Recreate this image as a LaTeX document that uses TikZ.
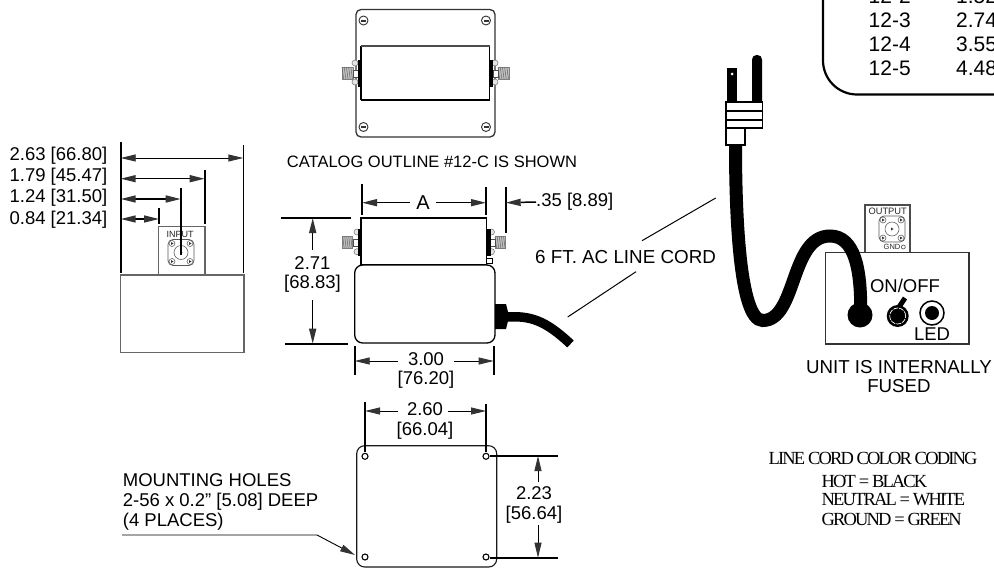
\documentclass[tikz,border=0pt]{standalone}
\usepackage{fontspec}
\setmainfont{Liberation Sans}
\newfontfamily\codingfont[LetterSpace=-10]{Liberation Serif}
\usetikzlibrary{arrows.meta, calc, positioning}

\tikzset{
  dimtip/.style={-{Triangle[length=15pt,width=7pt,color=black!80]}},
  dimboth/.style={{Triangle[length=15pt,width=7pt,color=black!80]}-{Triangle[length=15pt,width=7pt,color=black!80]}},
  extline/.style={line width=1.9pt},
  dimlabel/.style={font=\fontsize{18.5}{20}\selectfont, inner sep=0pt, align=center},
  tablelabel/.style={font=\fontsize{21}{24}\selectfont, inner sep=0pt, anchor=base west},
  partline/.style={line width=1.3pt, draw=black!80},
  tinylabel/.style={inner sep=0pt, text=black!85},
  flange/.style={draw=black!65, line width=0.8pt, fill=white, rounded corners=5pt},
  threaded/.style={draw=black!50, line width=0.6pt, fill=black!25},
  codinglabel/.style={font=\codingfont\fontsize{18.5}{20}\selectfont, inner sep=0pt, anchor=west},
}

% small connector face: flange, bore and four screws
\newcommand{\sqconn}[2]{
  \draw[flange] (#1-13,#2-13) rectangle (#1+13,#2+13);
  \draw[draw=black!60, line width=0.6pt] (#1,#2) circle (7pt);
  \fill[black!80] (#1-1,#2-1.5) -- (#1+1.5,#2) -- (#1-1,#2+1.5) -- cycle;
  \foreach \dx/\dy in {-9/-9, 9/-9, -9/9, 9/9} {
    \draw[draw=black!60, fill=white, line width=0.6pt] (#1+\dx,#2+\dy) circle (3pt);
    \fill[black!80] (#1+\dx-1,#2+\dy-1.5) -- (#1+\dx+1.5,#2+\dy) -- (#1+\dx-1,#2+\dy+1.5) -- cycle;
  }
}
% threaded stud between x positions, on centre height
\newcommand{\stud}[3]{
  \draw[threaded] (#1,#3-6) rectangle (#2,#3+6);
  \foreach \sx in {0,0.2,...,0.9} {
    \draw[black!60, line width=0.5pt] ($(#1,#3-6)!\sx!(#2,#3-6)$) -- ($(#1,#3+6)!\sx+0.15!(#2,#3+6)$);
  }
}

\begin{document}
\begin{tikzpicture}[x=1pt, y=-1pt]
\useasboundingbox (0,0) rectangle (994,568);
\clip (0,0) rectangle (994,568);
\fill[white] (0,0) rectangle (994,568);

% Catalog table
\draw[line width=2.2pt, rounded corners=34pt] (823,-60) -- (823,94.5) -- (1060,94.5);
\foreach \rowy/\rowa/\rowb in {3.3/12-2/1.52, 27/12-3/2.74, 51/12-4/3.55, 75/12-5/4.48} {
  \node[tablelabel] (row\rowa) at (868.5,\rowy) {\rowa};
  \node[tablelabel] (val\rowa) at (956,\rowy) {\rowb};
}

% Top view
\draw[partline, rounded corners=5pt] (356,9.5) rectangle (495,137);
\draw[line width=1.1pt] (361,100) -- (361,45.7) (489.5,45.7) -- (489.5,100) -- (361,100);
\draw[line width=1.6pt, black!70] (361,45.7) -- (489.5,45.7);
\foreach \sx/\sy in {363.5/20.5, 486/20.5, 363.5/127, 486/127} {
  \draw[line width=0.9pt, black!80] (\sx,\sy) circle (4.5pt);
  \fill[black!80] (\sx-2.5,\sy-0.8) rectangle (\sx+2.5,\sy+1.2);
}
\stud{342}{353}{73}
\stud{498}{509}{73}
\draw[black!70, fill=white] (353,70) rectangle (358,77);
\draw[black!70, fill=white] (493,70) rectangle (498,77);
\foreach \nx in {355,495} {
  \draw[black!50, fill=black!10, line width=0.6pt] (\nx,63) circle (3pt);
  \draw[black!50, fill=black!10, line width=0.6pt] (\nx,82) circle (3pt);
}
\fill[black] (358,60) rectangle (361,87);
\fill[black] (489.5,60) rectangle (493,87);
\node[dimlabel, font=\fontsize{16.5}{18}\selectfont] (catalog) at (432,162) {CATALOG OUTLINE \#12-C IS SHOWN};

% Side view with input connector
\draw[partline, black!60] (120.7,275) rectangle (244,352.7);
\draw[partline, black!60] (158.7,275) |- (205,226.7) -- (205,275);
\node[tinylabel, font=\fontsize{9}{10}\selectfont] (input) at (180,234) {INPUT};
\sqconn{181}{252.5}
\draw[extline] (120.7,142) -- (120.7,273);
\draw[line width=1pt] (243.3,145) -- (243.3,273);
\draw[extline] (204.7,170) -- (204.7,224);
\draw[extline] (180.7,188) -- (180.7,255);
\draw[extline] (159,208) -- (159,224);
\draw[dimboth, line width=0.9pt] (120.7,158) -- (243.3,158);
\draw[dimboth, line width=1.5pt] (120.7,178.7) -- (204.7,178.7);
\draw[dimboth, line width=1.5pt] (120.7,199) -- (180.7,199);
\draw[dimboth, line width=1.5pt] (120.7,219) -- (159,219);
\node[dimlabel, anchor=east] (widtha) at (107.5,156) {2.63 [66.80]};
\node[dimlabel, anchor=east] (widthb) at (107.5,177) {1.79 [45.47]};
\node[dimlabel, anchor=east] (widthc) at (107.5,198) {1.24 [31.50]};
\node[dimlabel, anchor=east] (widthd) at (107.5,220) {0.84 [21.34]};

% Front view
\stud{342.7}{352.7}{242.5}
\stud{495}{505.7}{242.5}
\foreach \nx in {357,491.5} {
  \draw[black!50, fill=black!10, line width=0.6pt] (\nx,232) circle (3pt);
  \draw[black!50, fill=black!10, line width=0.6pt] (\nx,251.7) circle (3pt);
}
\draw[black!70, fill=white] (352.7,239) rectangle (358,246);
\draw[black!70, fill=white] (490,239) rectangle (495,246);
\fill[black] (358,229) rectangle (361,256);
\fill[black] (486.7,229) rectangle (491,256);
\draw[line width=0.8pt] (486.7,258) rectangle (492,263.5);
\draw[line width=1.3pt, fill=white] (361,218) rectangle (486.7,265);
\draw[line width=1.3pt, fill=white, rounded corners=8pt] (354.7,265) rectangle (495,343);
\fill[black] (495,304) -- (506,304) -- (508,312) -- (508,321) -- (506,329) -- (495,329) -- cycle;
\draw[line width=9.5pt] (506,317) .. controls (530,315.5) and (545,320) .. (570.5,344);
\draw[extline] (362,184) -- (362,215);
\draw[extline] (486,187) -- (486,215);
\draw[extline] (505.7,187) -- (505.7,233);
\node[dimlabel, font=\fontsize{20}{20}\selectfont] (dima) at (423,202.7) {A};
\draw[dimtip, line width=1.5pt] (dima.west) ++(-6,0) -- (362,202.7);
\draw[dimtip, line width=1.5pt] (dima.east) ++(6,0) -- (486,202.7);
\node[dimlabel, anchor=west] (stud) at (536,202) {.35 [8.89]};
\draw[dimtip, line width=1.5pt] (stud.west) -- (505.7,202.7);
\draw[extline] (281,218) -- (351,218);
\draw[extline] (285,343.7) -- (348,343.7);
\node[dimlabel] (high) at (312.5,274.5) {2.71\\[-1pt]{[68.83]}};
\draw[dimtip, line width=1.5pt] (312.7,250) -- (312.7,218);
\draw[dimtip, line width=1.5pt] (312.7,300) -- (312.7,343.7);
\draw[extline] (354.7,346) -- (354.7,375);
\draw[extline] (493.7,346) -- (493.7,375);
\node[dimlabel] (wide) at (426,370.5) {3.00\\[-1pt]{[76.20]}};
\draw[dimtip, line width=0.9pt] (398,361) -- (354.7,361);
\draw[dimtip, line width=0.9pt] (454,361) -- (493.7,361);
\node[dimlabel, anchor=west, font=\fontsize{18.8}{20}\selectfont] (cordlabel) at (535,257) {6 FT. AC LINE CORD};
\draw[line width=1pt] (567.7,317) -- (636,271.7);
\draw[line width=1pt] (642,240.7) -- (715.7,198);

% Bottom view
\draw[line width=1.1pt, black!90, rounded corners=8pt] (356.7,445.7) rectangle (496.7,567);
\foreach \hx/\hy in {365/456.3, 486/456.3, 365/557, 486/557} {
  \draw[line width=1.1pt] (\hx,\hy) circle (3pt);
}
\draw[extline] (365,402) -- (365,452);
\draw[extline] (486,404) -- (486,452);
\node[dimlabel] (spana) at (425,421.3) {2.60\\{[66.04]}};
\draw[dimtip, line width=0.9pt] (398,411) -- (365,411);
\draw[dimtip, line width=0.9pt] (448,411) -- (486,411);
\draw[extline] (490,456) -- (558,456);
\draw[extline] (490,557.7) -- (558,557.7);
\node[dimlabel] (spanb) at (534,505) {2.23\\{[56.64]}};
\draw[dimtip, line width=0.9pt] (538,481.7) -- (538,456);
\draw[dimtip, line width=0.9pt] (538,525) -- (538,557.7);
\node[dimlabel, anchor=west, align=left, font=\fontsize{18.5}{20}\selectfont] (holes) at (122.7,502.3) {MOUNTING HOLES\\2-56 x 0.2" [5.08] DEEP\\(4 PLACES)};
\draw[dimtip, line width=0.9pt] (122,535) -- (317,535) -- (355,555);

% Rear panel
\draw[partline, black!70, fill=white] (865,252.7) |- (910,205) -- (910,252.7);
\node[tinylabel, font=\fontsize{9.3}{10}\selectfont] (output) at (887.7,211.7) {OUTPUT};
\sqconn{892}{229}
\node[tinylabel, font=\fontsize{7.5}{8}\selectfont] (gnd) at (892,247) {GND};
\draw[black!70, line width=0.6pt] (903.3,247) circle (2pt);
\draw[line width=1.4pt, black!80] (825.7,252.7) rectangle (969,344);
\node[dimlabel] (onoff) at (905,285.7) {ON/OFF};
\fill[black] (897.7,316) circle (11pt);
\draw[white, line width=0.7pt, dash pattern=on 5pt off 1pt] (897.7,316) circle (8pt);
\draw[line width=5pt] (899,307) -- (905,298);
\draw[line width=1.5pt, fill=white] (932,313) circle (12pt);
\fill[black] (932,313) circle (7pt);
\node[dimlabel] (led) at (932,334) {LED};
\node[dimlabel, font=\fontsize{18.7}{19}\selectfont] (fused) at (899,376.5) {UNIT IS INTERNALLY\\FUSED};

% Power cord and plug
\fill[black] (727.3,68) rectangle (736.7,102);
\fill[white] (732,74) circle (1.5pt);
\fill[black, rounded corners=4.5pt] (752,55) rectangle (762,110);
\draw[line width=13pt] (735.5,145) .. controls (735.5,210) and (739,320.5) .. (762.7,320.5)
  .. controls (797,320.5) and (790,236) .. (830,236)
  .. controls (855,236) and (860.7,270) .. (860.7,308);
\fill[black] (860,315) circle (12.5pt);
\draw[line width=1.1pt, fill=white] (726,102) rectangle (762.7,128);
\draw[line width=2pt] (726,110.5) -- (762.7,110.5) (726,119.5) -- (762.7,119.5);
\draw[line width=1.1pt, fill=white] (726,128) rectangle (745,145);

% Line cord colors
\node[codinglabel] (codehead) at (768.5,458) {LINE CORD COLOR CODING};
\node[codinglabel] (codehot) at (821.5,481) {HOT = BLACK};
\node[codinglabel] (codeneutral) at (821.5,500) {NEUTRAL = WHITE};
\node[codinglabel] (codeground) at (821.5,519) {GROUND = GREEN};
\end{tikzpicture}
\end{document}
